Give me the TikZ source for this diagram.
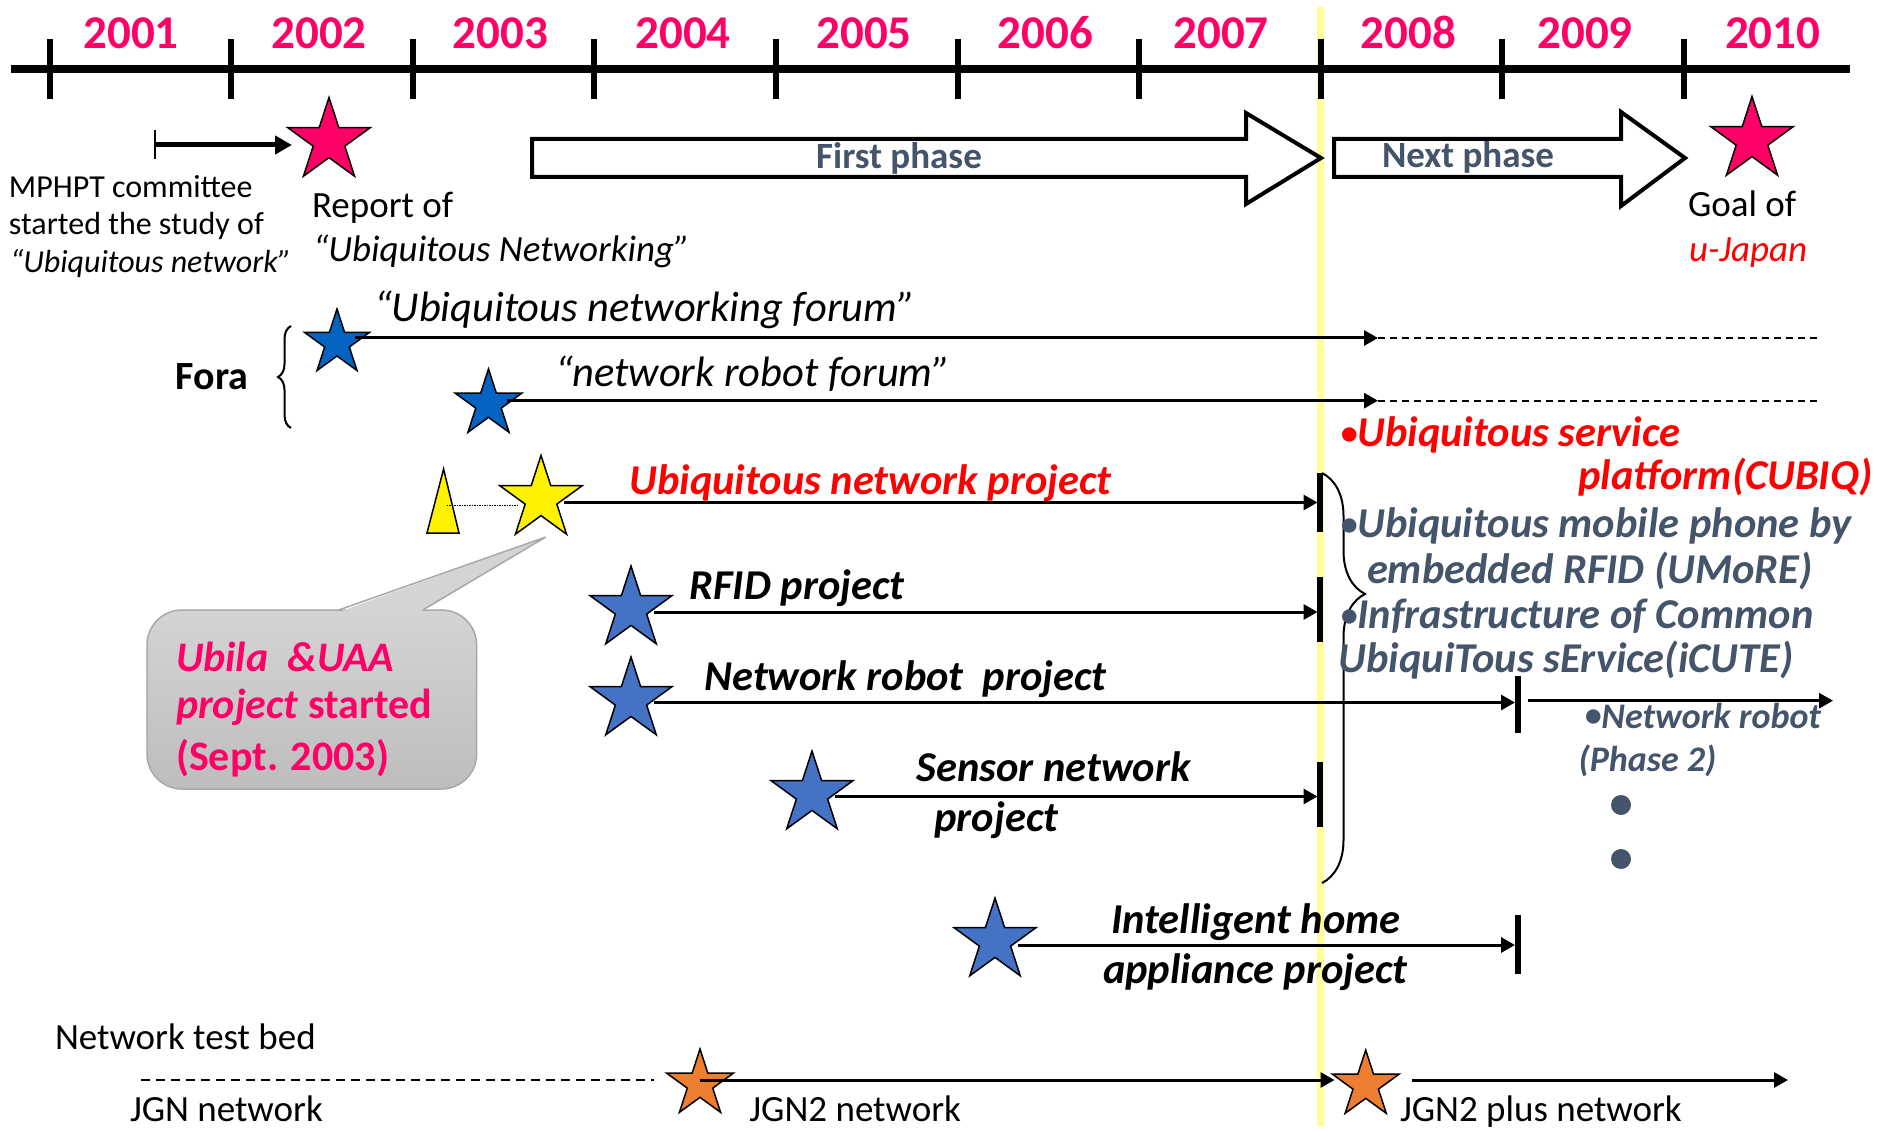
\documentclass[tikz,border=0pt]{standalone}
\usepackage{fontspec}
\setmainfont{Carlito}
\usetikzlibrary{shapes.geometric,arrows.meta,decorations.pathreplacing}

\definecolor{yearpink}{HTML}{FF0066}
\definecolor{slate}{HTML}{44546A}
\definecolor{forumblue}{HTML}{0563C1}
\definecolor{projblue}{HTML}{4472C4}
\definecolor{netorange}{HTML}{ED7D31}
\definecolor{marker}{HTML}{FFFF99}
\definecolor{alertred}{HTML}{FF0000}
\definecolor{calltop}{HTML}{D4D4D4}
\definecolor{callbot}{HTML}{BDBDBD}
\definecolor{calledge}{HTML}{A8A8A8}

% a slightly smaller list bullet
\newcommand\listdot{\raisebox{1.5pt}{\fontsize{34}{34}\selectfont •}}

\begin{document}
\begin{tikzpicture}[x=1pt,y=-1pt,
  every node/.style={inner sep=0pt, outer sep=0pt},
  txt/.style={anchor=base west},
  yearlbl/.style={anchor=base, text=yearpink, font=\fontsize{47}{56}\selectfont\bfseries},
  plaintext/.style={font=\fontsize{37}{44}\selectfont},
  smalltext/.style={font=\fontsize{32}{38}\selectfont},
  bolditl/.style={font=\fontsize{42.5}{50}\selectfont\bfseries\itshape},
  forumlbl/.style={font=\fontsize{42.5}{50}\selectfont\itshape},
  phaselbl/.style={anchor=base, text=slate, font=\fontsize{37}{44}\selectfont\bfseries},
  starshape/.style={star, star points=5, star point ratio=2.618, draw=black, line width=1.5pt},
  conn/.style={line width=3pt, -{Triangle[length=14pt,width=15pt]}},
  endbar/.style={line width=6pt},
  blockarrow/.style={draw=black, fill=white, line width=4pt, line join=miter},
  continued/.style={line width=2pt, dash pattern=on 7pt off 5pt},
  bracestyle/.style={line width=2pt, decorate},
]
\useasboundingbox (0,0) rectangle (1879,1131);
\fill[white] (0,0) rectangle (1879,1131);

% marker line at 2008
\draw[marker, line width=7pt] (1320,7) -- (1320,1126);

% time axis
\draw[line width=8pt] (11,69) -- (1850,69);
\foreach \i in {0,...,9}
  \draw[line width=6pt] ({49.5+181.6*\i},39) -- ({49.5+181.6*\i},99);
\foreach \x/\yr in {131/2001,319/2002,500.6/2003,683/2004,864/2005,1045.5/2006,1221/2007,1408.5/2008,1585/2009,1772.7/2010}
  \node[yearlbl] (y\yr) at (\x,48.3) {\yr};

% phase arrows
\draw[blockarrow] (532,139) -- (1246,139) -- (1246,113) -- (1321,158) -- (1246,204) -- (1246,177) -- (532,177) -- cycle;
\node[phaselbl] (first) at (899,168.3) {First phase};
\draw[blockarrow] (1334,139) -- (1621,139) -- (1621,112) -- (1685,158) -- (1621,206) -- (1621,177) -- (1334,177) -- cycle;
\node[phaselbl] (next) at (1468,168) {Next phase};

% committee study
\coordinate (mpS) at (155,145);
\coordinate (mpE) at (292,145);
\draw[line width=1.5pt] (155,130) -- (155,159);
\draw[line width=5pt, -{Triangle[length=17pt,width=18pt]}] (mpS) -- (mpE);
\node[txt, smalltext] (mp1) at (9,198) {MPHPT committee};
\node[txt, smalltext] (mp2) at (9,235) {started the study of};
\node[txt, smalltext] (mp3) at (10,272.7) {\itshape “Ubiquitous network”};

% report and goal
\node[starshape, fill=yearpink, minimum size=87pt] (rep) at (329,141) {};
\node[txt, plaintext] (rep1) at (312,218) {Report of};
\node[txt, plaintext] (rep2) at (313,262) {\itshape “Ubiquitous Networking”};
\node[starshape, fill=yearpink, minimum size=87pt] (goal) at (1752,140) {};
\node[txt, plaintext] (goal1) at (1688,217) {Goal of};
\node[txt, plaintext, text=alertred] (goal2) at (1689,262) {\itshape u-Japan};

% fora
\node[txt, font=\fontsize{40}{48}\selectfont\bfseries] (fora) at (175.7,389) {Fora};
\draw[bracestyle, decoration={brace, amplitude=13pt}] (291,428) -- (291,326);
\node[starshape, fill=forumblue, minimum size=68pt] (fs1) at (337,343) {};
\node[starshape, fill=forumblue, minimum size=70pt] (fs2) at (488.5,404) {};
\coordinate (f1E) at (1378,338);
\coordinate (f1D) at (1818,338);
\coordinate (f2E) at (1378,400.7);
\coordinate (f2D) at (1818,400.7);
\draw[conn] ([yshift=5pt]fs1.east) -- (f1E);
\draw[continued] (f1E) -- (f1D);
\draw[conn] ([yshift=3.3pt]fs2.east) -- (f2E);
\draw[continued] (f2E) -- (f2D);
\node[txt, forumlbl] (f1t) at (374,322) {“Ubiquitous networking forum”};
\node[txt, forumlbl] (f2t) at (555,387) {“network robot forum”};

% ubiquitous network project
\draw[fill=yellow, draw=black, line width=1.5pt] (443.6,469) -- (459,533) -- (427,533) -- cycle;
\coordinate (tri) at (446.6,505.7);
\node[starshape, fill=yellow, minimum size=87pt] (ys) at (541,499) {};
\draw[line width=1.5pt, densely dotted] (tri) -- ([yshift=-6.7pt]ys.west);
\coordinate (unpE) at (1317.5,502.5);
\draw[conn] ([yshift=-3.5pt]ys.east) -- (unpE);
\draw[endbar] (1320,473) -- (1320,532);
\node[txt, bolditl, text=alertred] (unp) at (629.5,494.3) {Ubiquitous network project};

% callout
\node[draw=calledge, line width=1.5pt, rounded corners=35pt, top color=calltop, bottom color=callbot,
      minimum width=329.6pt, minimum height=179pt] (callout) at (311.8,699.5) {};
\fill[calltop] (340,611.6) -- (545.6,537.1) -- (421.5,611.6) -- cycle;
\draw[calledge, line width=1.5pt, line join=round] (338.7,610) -- (545.6,537.1) -- (422.7,610);
\node[txt, text=yearpink, font=\fontsize{42}{50}\selectfont\bfseries] (cl1) at (176,671) {\itshape Ubila\ \ \&UAA};
\node[txt, text=yearpink, font=\fontsize{42}{50}\selectfont\bfseries] (cl2) at (176,718.5) {\textit{project} started};
\node[txt, text=yearpink, font=\fontsize{42}{50}\selectfont\bfseries] (cl3) at (176,770) {(Sept. 2003)};

% RFID project
\node[starshape, fill=projblue, minimum size=86pt] (rfid) at (631,609) {};
\coordinate (rfidE) at (1317.5,612);
\draw[conn] ([yshift=-3pt]rfid.east) -- (rfidE);
\draw[endbar] (1320,577) -- (1320,642);
\node[txt, bolditl] (rfidt) at (689.5,599.6) {RFID project};

% network robot project
\node[starshape, fill=projblue, minimum size=86pt] (nr) at (631,700) {};
\coordinate (nrE) at (1515,702.5);
\draw[conn] ([yshift=-2.5pt]nr.east) -- (nrE);
\draw[endbar] (1517.5,676) -- (1517.5,733);
\coordinate (nr2S) at (1527.5,700.7);
\coordinate (nr2E) at (1833,700.7);
\draw[conn] (nr2S) -- (nr2E);
\node[txt, bolditl] (nrt) at (704.5,690.7) {Network robot\ \ project};

% sensor network project
\node[starshape, fill=projblue, minimum size=86pt] (sn) at (812,794) {};
\coordinate (snE) at (1317.5,796.5);
\draw[conn] ([yshift=-2.5pt]sn.east) -- (snE);
\draw[endbar] (1320,762) -- (1320,827);
\node[txt, bolditl] (snt1) at (916.5,781.8) {Sensor network};
\node[txt, bolditl] (snt2) at (934.5,831) {project};

% next phase projects
\draw[bracestyle, decoration={brace, amplitude=43pt, aspect=0.295}] (1322,473) -- (1322,883);
\node[txt, bolditl, text=alertred] (np1) at (1340.5,446) {\listdot Ubiquitous service};
\node[txt, bolditl, text=alertred] (np2) at (1578.5,489) {platform(CUBIQ)};
\node[txt, bolditl, text=slate] (np3) at (1340.5,537) {\listdot Ubiquitous mobile phone by};
\node[txt, bolditl, text=slate] (np4) at (1367,583.6) {embedded RFID (UMoRE)};
\node[txt, bolditl, text=slate] (np5) at (1340.5,628) {\listdot Infrastructure of Common};
\node[txt, bolditl, text=slate] (np6) at (1338.7,672.8) {UbiquiTous sErvice(iCUTE)};
\node[txt, text=slate, font=\fontsize{36}{43}\selectfont\bfseries\itshape] (np7) at (1584.5,728) {\listdot Network robot};
\node[txt, text=slate, font=\fontsize{36}{43}\selectfont\bfseries\itshape] (np8) at (1578.5,771) {(Phase 2)};
\node[circle, fill=slate, minimum size=20pt] (dot1) at (1621,805) {};
\node[circle, fill=slate, minimum size=20pt] (dot2) at (1621,859) {};

% intelligent home appliance project
\node[starshape, fill=projblue, minimum size=86pt] (ih) at (995,941) {};
\coordinate (ihE) at (1515,945);
\draw[conn] ([yshift=-4pt]ih.east) -- (ihE);
\draw[endbar] (1517.5,915) -- (1517.5,974);
\node[txt, bolditl] (iht1) at (1111,933) {Intelligent home};
\node[txt, bolditl] (iht2) at (1103,983) {appliance project};

% network test bed
\node[txt, plaintext] (tb) at (55,1049) {Network test bed};
\coordinate (jgnS) at (141,1080);
\coordinate (jgnE) at (653.5,1080);
\draw[line width=2pt, dash pattern=on 9pt off 6pt] (jgnS) -- (jgnE);
\node[starshape, fill=netorange, minimum size=70pt] (j2) at (700,1084) {};
\coordinate (j2E) at (1334.5,1080);
\draw[conn] ([yshift=4pt]j2.center) -- (j2E);
\node[starshape, fill=netorange, minimum size=70pt] (j2p) at (1365.7,1085) {};
\coordinate (j2pS) at (1412,1080);
\coordinate (j2pE) at (1788,1080);
\draw[conn] (j2pS) -- (j2pE);
\node[txt, plaintext] (jgn) at (130,1121.7) {JGN network};
\node[txt, plaintext] (jgn2) at (749.4,1121.7) {JGN2 network};
\node[txt, plaintext] (jgn2p) at (1400,1121.7) {JGN2 plus network};
\end{tikzpicture}
\end{document}
